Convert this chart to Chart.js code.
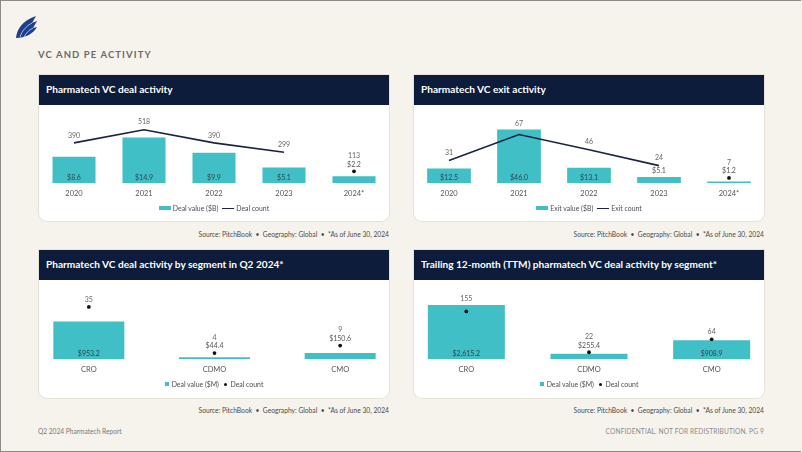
<!DOCTYPE html>
<html>
<head>
<meta charset="utf-8">
<script src="https://cdn.jsdelivr.net/npm/chart.js@4.4.1/dist/chart.umd.min.js"></script>
<style>
  html, body { margin: 0; padding: 0; }
  body { width: 802px; height: 452px; overflow: hidden; background: #f6f3ed; font-family: Lato, "Open Sans", sans-serif; }
  #page { position: relative; width: 800px; height: 450px; border-top: 1px solid #8c8a86; border-left: 1px solid #8c8a86; border-bottom: 1px solid #8c8a86; }
  .abs { position: absolute; }
  .section { left: 37px; top: 48px; font-size: 9.5px; font-weight: 700; letter-spacing: 1.1px; color: #6b6a68; }
  .card { position: absolute; width: 350px; background: #fff; border-radius: 0 0 8px 8px; box-shadow: 0 0 0 1px #e6e2da; }
  .hdr { height: 30px; background: #0c1c3a; color: #fff; font-weight: 700; font-size: 10.1px; line-height: 29px; padding-left: 7px; }
  .src { position: absolute; width: 350px; text-align: right; font-size: 6.7px; color: #4a4a4a; }
  .legend { position: absolute; width: 350px; text-align: center; font-size: 6.9px; color: #4f4f4f; }
  .legend span { display: inline-block; vertical-align: middle; }
  .sw-bar { width: 12px; height: 4px; background: #41bfc7; margin-right: 2px; }
  .sw-line { width: 12px; height: 1.5px; background: #1a2340; margin: 0 2px 0 4px; }
  .sw-sq { width: 4px; height: 4px; background: #41bfc7; margin-right: 3px; }
  .sw-dot { width: 3.5px; height: 3.5px; border-radius: 50%; background: #111; margin: 0 3px 0 5px; }
  canvas { position: absolute; }
  .foot { position: absolute; top: 426px; font-size: 6.6px; color: #777; }
</style>
</head>
<body>
<div id="page">
  <svg class="abs" style="left:14px;top:15px" width="22" height="24" viewBox="0 0 22 24">
    <path d="M1 22 C2 13 7 5 21 0 L17 7 L22 5 L18 12 L22 11 C18 18 10 22 1 22 Z" fill="#1f3d8c"/>
    <path d="M5 21 C7 15 11 10 17 7" stroke="#b5d0ec" stroke-width="0.9" fill="none"/>
    <path d="M9 21 C11 17 14 14 18 12" stroke="#b5d0ec" stroke-width="0.9" fill="none"/>
  </svg>
  <div class="abs section">VC AND PE ACTIVITY</div>

  <div class="card" style="left:38px;top:74px;height:146px"><div class="hdr">Pharmatech VC deal activity</div></div>
  <div class="card" style="left:413px;top:74px;height:146px"><div class="hdr">Pharmatech VC exit activity</div></div>
  <div class="card" style="left:38px;top:249px;height:148px"><div class="hdr">Pharmatech VC deal activity by segment in Q2 2024*</div></div>
  <div class="card" style="left:413px;top:249px;height:148px"><div class="hdr">Trailing 12-month (TTM) pharmatech VC deal activity by segment*</div></div>

  <canvas id="c1" width="350" height="95" style="left:38px;top:108px"></canvas>
  <canvas id="c2" width="350" height="95" style="left:413px;top:108px"></canvas>
  <canvas id="c3" width="377" height="95" style="left:25px;top:284px"></canvas>
  <canvas id="c4" width="368" height="95" style="left:404px;top:284px"></canvas>

  <div class="legend" style="left:38px;top:202px"><span class="sw-bar"></span><span>Deal value ($B)</span><span class="sw-line"></span><span>Deal count</span></div>
  <div class="legend" style="left:413px;top:202px"><span class="sw-bar"></span><span>Exit value ($B)</span><span class="sw-line"></span><span>Exit count</span></div>
  <div class="legend" style="left:38px;top:378px"><span class="sw-sq"></span><span>Deal value ($M)</span><span class="sw-dot"></span><span>Deal count</span></div>
  <div class="legend" style="left:413px;top:378px"><span class="sw-sq"></span><span>Deal value ($M)</span><span class="sw-dot"></span><span>Deal count</span></div>

  <div class="src" style="left:38px;top:229px">Source: PitchBook &nbsp;• &nbsp;Geography: Global &nbsp;• &nbsp;*As of June 30, 2024</div>
  <div class="src" style="left:413px;top:229px">Source: PitchBook &nbsp;• &nbsp;Geography: Global &nbsp;• &nbsp;*As of June 30, 2024</div>
  <div class="src" style="left:38px;top:405px">Source: PitchBook &nbsp;• &nbsp;Geography: Global &nbsp;• &nbsp;*As of June 30, 2024</div>
  <div class="src" style="left:413px;top:405px">Source: PitchBook &nbsp;• &nbsp;Geography: Global &nbsp;• &nbsp;*As of June 30, 2024</div>

  <div class="foot" style="left:37px">Q2 2024 Pharmatech Report</div>
  <div class="foot" style="right:37px;letter-spacing:0.15px;color:#8a8a8a">CONFIDENTIAL. NOT FOR REDISTRIBUTION. PG 9</div>
</div>

<script>
// Years for the two annual charts (2024 is a partial year)
const years = ["2020", "2021", "2022", "2023", "2024*"];
const dealValue = [8.6, 14.9, 9.9, 5.1, 2.2];
const dealCount = [390, 518, 390, 299, 113];
const exitValue = [12.5, 46.0, 13.1, 5.1, 1.2];
const exitCount = [31, 67, 46, 24, 7];

// Segments
const segments = ["CRO", "CDMO", "CMO"];
const q2Value = [953.2, 44.4, 150.6];
const q2Count = [35, 4, 9];
const ttmValue = [2615.2, 255.4, 908.9];
const ttmCount = [155, 22, 64];

const teal = "#41bfc7";
const navy = "#1a2340";
Chart.defaults.font.family = "Lato, sans-serif";
Chart.defaults.font.size = 7.5;
Chart.defaults.color = "#4f4f4f";

// format values like $2,615.2
const money = (v) => "$" + v.toLocaleString("en-US", { minimumFractionDigits: 1, maximumFractionDigits: 1 });

// Draws value labels on bars and count labels above points
const labelPlugin = {
  id: "labels",
  afterDatasetsDraw(chart) {
    const ctx = chart.ctx;
    const bars = chart.getDatasetMeta(0).data;
    const pts = chart.getDatasetMeta(1).data;
    const vals = chart.data.datasets[0].data;
    const cnts = chart.data.datasets[1].data;
    const dots = chart.data.datasets[1].dotFlags;
    ctx.save();
    ctx.textAlign = "center";
    ctx.textBaseline = "middle";
    ctx.font = "7px Lato, sans-serif";
    bars.forEach((b, i) => {
      const h = b.base - b.y;
      let countTop;
      if (h > 12) {
        ctx.fillStyle = "#30454c";
        ctx.fillText(money(vals[i]), b.x, b.base - 5.5);
        countTop = b.y - 6;
      } else {
        let vy = b.y - 6.5;
        if (dots[i]) vy = Math.min(vy, pts[i].y - 7);
        ctx.fillStyle = "#555";
        ctx.fillText(money(vals[i]), b.x, vy);
        countTop = vy - 8.5;
      }
      const cy = Math.min(pts[i].y - 7.5, countTop);
      ctx.fillStyle = "#666";
      ctx.fillText(String(cnts[i]), b.x, cy);
    });
    ctx.restore();
  },
};

function makeChart(id, labels, values, counts, opt) {
  const last = labels.length - 1;
  // on the annual charts the partial year is a lone dot, elsewhere every count is a dot
  const dotFlags = labels.map((_, i) => !opt.line || i === last);
  return new Chart(document.getElementById(id), {
    type: "bar",
    plugins: [labelPlugin],
    data: {
      labels: labels,
      datasets: [
        {
          type: "bar",
          data: values,
          backgroundColor: teal,
          yAxisID: "y",
          order: 2,
          categoryPercentage: 1,
          barPercentage: opt.barPct,
        },
        {
          type: "line",
          data: counts,
          dotFlags: dotFlags,
          yAxisID: "y1",
          order: 1,
          showLine: opt.line,
          borderColor: navy,
          borderWidth: 1.6,
          tension: 0,
          segment: { borderColor: (c) => (c.p1DataIndex === last ? "transparent" : navy) },
          pointRadius: (c) => (dotFlags[c.dataIndex] ? 1.9 : 0),
          pointBackgroundColor: "#111",
          pointBorderWidth: 0,
        },
      ],
    },
    options: {
      responsive: false,
      animation: false,
      layout: { autoPadding: false, padding: { top: 10, left: 0, right: 0, bottom: 0 } },
      plugins: { legend: { display: false }, tooltip: { enabled: false } },
      scales: {
        x: {
          grid: { display: false, drawTicks: false },
          border: { display: false },
          ticks: { padding: 6, color: "#555", font: { size: 7.5 } },
        },
        y: { display: false, min: 0, max: opt.vMax },
        y1: { display: false, min: 0, max: opt.cMax },
      },
    },
  });
}

makeChart("c1", years, dealValue, dealCount, { line: true, barPct: 0.615, vMax: 21, cMax: 622 });
makeChart("c2", years, exitValue, exitCount, { line: true, barPct: 0.625, vMax: 54.9, cMax: 88.5 });
makeChart("c3", segments, q2Value, q2Count, { line: false, barPct: 0.565, vMax: 1628, cMax: 43 });
makeChart("c4", segments, ttmValue, ttmCount, { line: false, barPct: 0.628, vMax: 3103, cMax: 208.6 });
</script>
</body>
</html>
